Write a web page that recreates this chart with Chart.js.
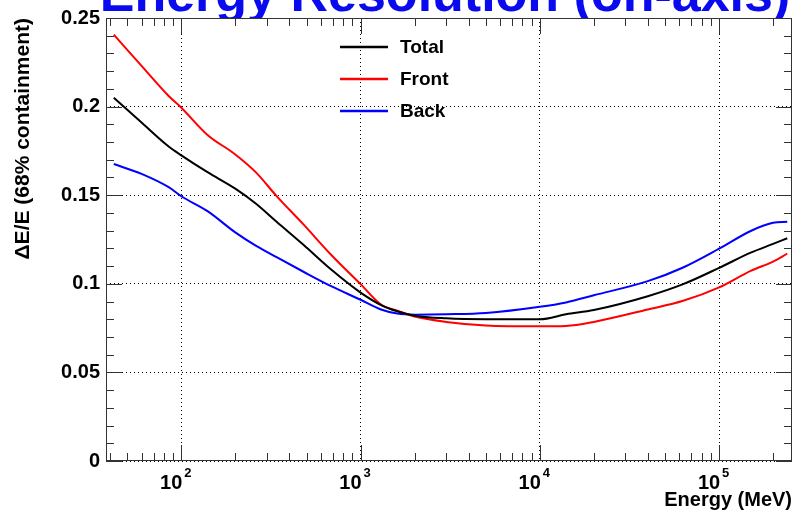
<!DOCTYPE html>
<html>
<head>
<meta charset="utf-8">
<script src="https://cdn.jsdelivr.net/npm/chart.js@4.4.0/dist/chart.umd.min.js"></script>
<style>
  body { margin: 0; background: #fff; }
  #wrap { width: 796px; height: 515px; }
</style>
</head>
<body>
<div id="wrap"><canvas id="resChart" width="796" height="515"></canvas></div>
<script>
// energies in MeV
var energies = [42, 60, 85, 100, 140, 200, 260, 340, 480, 680, 1000, 1300, 1600, 2000, 3000, 5000,
                10000, 14000, 20000, 40000, 63000, 100000, 150000, 200000, 240000];
var totalRes = [0.205, 0.191, 0.1775, 0.1725, 0.163, 0.1537, 0.1453, 0.135, 0.122, 0.1083, 0.095, 0.088, 0.0845, 0.082, 0.0805, 0.080,
                0.080, 0.0828, 0.0852, 0.093, 0.0998, 0.109, 0.1176, 0.1225, 0.1257];
var frontRes = [0.2406, 0.223, 0.206, 0.1994, 0.184, 0.173, 0.163, 0.1495, 0.1335, 0.1167, 0.0998, 0.0883, 0.0848, 0.0815, 0.0785, 0.0765,
                0.076, 0.0762, 0.0785, 0.0855, 0.0904, 0.098, 0.1073, 0.1125, 0.117];
var backRes  = [0.1676, 0.162, 0.1545, 0.1494, 0.141, 0.129, 0.1215, 0.115, 0.1068, 0.0988, 0.091, 0.0855, 0.0832, 0.0826, 0.0828, 0.0835,
                0.087, 0.0895, 0.0935, 0.1015, 0.1092, 0.1198, 0.1298, 0.1344, 0.135];
var decadeTicks = [100, 1000, 10000, 100000];
var decadeExp = ['2', '3', '4', '5'];

var FONT = "'Liberation Sans', Arial, Helvetica, sans-serif";

function toPoints(vals) {
    return energies.map(function(e, i) { return {x: e, y: vals[i]}; });
}

// title (clipped by the frame like the original), white plot area
var titlePlugin = {
    id: 'titlePlugin',
    beforeDraw: function(chart) {
        var ctx = chart.ctx, a = chart.chartArea;
        ctx.save();
        ctx.fillStyle = '#fff';
        ctx.fillRect(0, 0, chart.width, chart.height);
        ctx.fillStyle = '#0a0aee';
        ctx.font = 'bold 52px ' + FONT;
        ctx.textAlign = 'center';
        ctx.textBaseline = 'alphabetic';
        ctx.fillText('Energy Resolution (on-axis)', 445, 11);
        ctx.fillStyle = '#fff';
        ctx.fillRect(a.left, a.top, a.right - a.left, a.bottom - a.top);
        ctx.restore();
    }
};

// frame, inner ticks, x labels with exponents, legend
var framePlugin = {
    id: 'framePlugin',
    afterDraw: function(chart) {
        var ctx = chart.ctx, a = chart.chartArea;
        var xs = chart.scales.x, ys = chart.scales.y;
        ctx.save();
        ctx.strokeStyle = '#333';
        ctx.lineWidth = 1;
        ctx.strokeRect(a.left + 0.5, a.top + 0.5, a.right - a.left - 1, a.bottom - a.top - 1);

        ctx.beginPath();
        for (var d = 10; d <= 100000; d *= 10) {
            for (var k = 1; k <= 9; k++) {
                var v = k * d;
                if (v < xs.min || v > xs.max) continue;
                var px = Math.round(xs.getPixelForValue(v)) + 0.5;
                var len = k === 1 ? 16 : 8;
                ctx.moveTo(px, a.bottom); ctx.lineTo(px, a.bottom - len);
                ctx.moveTo(px, a.top); ctx.lineTo(px, a.top + len);
            }
        }
        for (var j = 0; j <= 25; j++) {
            var py = Math.round(ys.getPixelForValue(j / 100)) + 0.5;
            var ylen = j % 5 === 0 ? 16 : 8;
            ctx.moveTo(a.left, py); ctx.lineTo(a.left + ylen, py);
            ctx.moveTo(a.right, py); ctx.lineTo(a.right - ylen, py);
        }
        ctx.stroke();

        // x tick labels 10^n
        ctx.fillStyle = '#000';
        ctx.textBaseline = 'alphabetic';
        decadeTicks.forEach(function(v, i) {
            var px = xs.getPixelForValue(v);
            ctx.font = 'bold 20px ' + FONT;
            ctx.textAlign = 'right';
            ctx.fillText('10', px + 1, 489);
            ctx.font = 'bold 13px ' + FONT;
            ctx.textAlign = 'left';
            ctx.fillText(decadeExp[i], px + 3, 477);
        });

        // legend
        var lx = 340, ly = 47;
        chart.data.datasets.forEach(function(ds, i) {
            var y = ly + i * 32;
            ctx.strokeStyle = ds.borderColor;
            ctx.lineWidth = 2.5;
            ctx.beginPath();
            ctx.moveTo(lx, y); ctx.lineTo(lx + 48, y);
            ctx.stroke();
            ctx.fillStyle = '#000';
            ctx.font = 'bold 19px ' + FONT;
            ctx.textAlign = 'left';
            ctx.textBaseline = 'middle';
            ctx.fillText(ds.label, lx + 60, y + 1);
        });
        ctx.restore();
    }
};

var ctx = document.getElementById('resChart').getContext('2d');
var resChart = new Chart(ctx, {
    type: 'line',
    data: {
        datasets: [
            { label: 'Total', data: toPoints(totalRes), borderColor: '#000000', borderWidth: 2, pointRadius: 0, fill: false, cubicInterpolationMode: 'monotone' },
            { label: 'Front', data: toPoints(frontRes), borderColor: '#ff0000', borderWidth: 2, pointRadius: 0, fill: false, cubicInterpolationMode: 'monotone' },
            { label: 'Back',  data: toPoints(backRes),  borderColor: '#0000ff', borderWidth: 2, pointRadius: 0, fill: false, cubicInterpolationMode: 'monotone' }
        ]
    },
    options: {
        responsive: false,
        animation: false,
        layout: { padding: { top: 16, right: 4, left: 0, bottom: 0 } },
        plugins: {
            legend: { display: false },
            tooltip: { enabled: false }
        },
        scales: {
            x: {
                type: 'logarithmic',
                min: 38,
                max: 255000,
                afterBuildTicks: function(scale) {
                    scale.ticks = decadeTicks.map(function(v) { return {value: v}; });
                },
                afterFit: function(scale) { scale.height = 54; },
                ticks: { display: false },
                grid: { color: '#000', lineWidth: 1, drawTicks: false },
                border: { display: false, dash: [1, 3] },
                title: {
                    display: true,
                    text: 'Energy (MeV)',
                    align: 'end',
                    color: '#000',
                    font: { family: FONT, size: 20, weight: 'bold' },
                    padding: { top: 0, bottom: 3 }
                }
            },
            y: {
                min: 0,
                max: 0.25,
                afterFit: function(scale) { scale.width = 106; },
                ticks: {
                    stepSize: 0.05,
                    color: '#000',
                    padding: 6,
                    font: { family: FONT, size: 20, weight: 'bold' },
                    callback: function(v) { return String(Math.round(v * 100) / 100); }
                },
                grid: { color: '#000', lineWidth: 1, drawTicks: false },
                border: { display: false, dash: [1, 3] },
                title: {
                    display: true,
                    text: '\u0394E/E (68% containment)',
                    align: 'end',
                    color: '#000',
                    font: { family: FONT, size: 21, weight: 'bold' },
                    padding: { top: 11, bottom: 0 }
                }
            }
        }
    },
    plugins: [titlePlugin, framePlugin]
});
</script>
</body>
</html>
